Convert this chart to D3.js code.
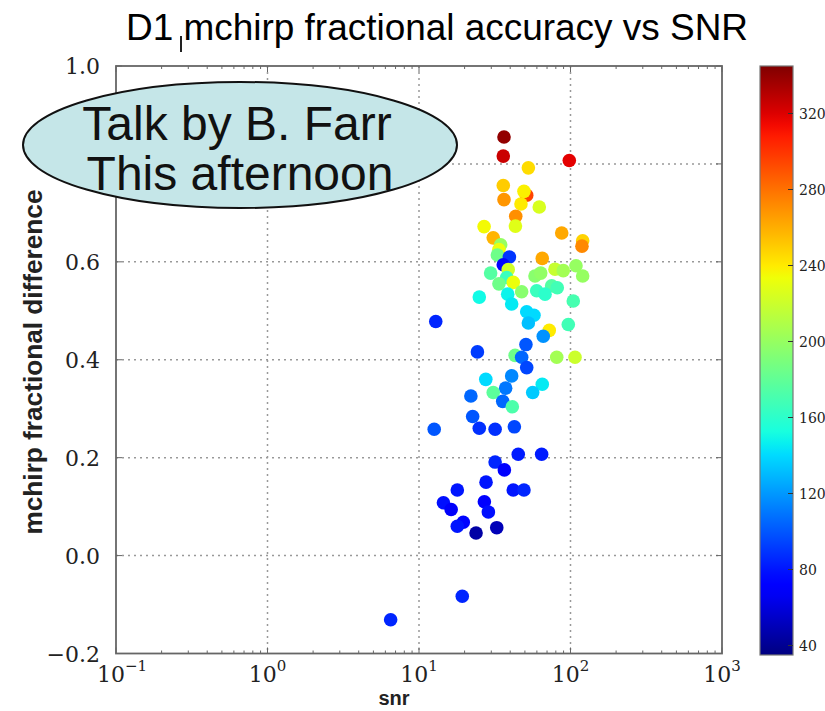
<!DOCTYPE html>
<html>
<head>
<meta charset="utf-8">
<script src="https://d3js.org/d3.v7.min.js"></script>
<style>
    body { margin: 0; background: #fff; }
    svg { display: block; }
    .tick-label { font-family: "DejaVu Serif", "Liberation Serif", serif; fill: #222; }
    .grid line { stroke: #999; stroke-width: 1.5; stroke-dasharray: 2, 4; }
    .axis path, .axis line { stroke: #666; }
</style>
</head>
<body>
<svg width="825" height="711"></svg>
<script>
// signal to noise ratio of each injection
const snr = [36.4, 98.2, 52.7, 36.0, 51.4, 49.3, 36.4, 47.1, 62.2, 43.5,
    43.3, 26.9, 87.5, 120.3, 119.0, 30.9, 34.6, 33.7, 32.9, 39.5,
    36.0, 65.1, 38.8, 29.7, 37.9, 41.9, 33.7, 79.0, 89.6, 108.7,
    120.3, 58.3, 63.6, 75.1, 81.8, 47.6, 59.8, 67.9, 25.0, 38.5,
    40.9, 104.3, 51.4, 57.4, 52.7, 96.7, 12.9, 72.4, 66.1, 50.8,
    24.3, 43.1, 47.6, 81.1, 107.1, 51.4, 27.6, 40.9, 65.1, 37.3,
    56.3, 30.9, 22.0, 35.7, 41.3, 22.6, 25.0, 31.8, 42.6, 12.6,
    45.2, 64.5, 31.8, 36.6, 27.7, 17.9, 41.9, 49.3, 14.5, 16.3,
    27.0, 28.7, 19.6, 17.9, 23.8, 32.6, 19.3, 6.5, 36.0];
// mchirp fractional difference
const diff = [0.855, 0.807, 0.792, 0.756, 0.736, 0.744, 0.727, 0.718, 0.712, 0.693,
    0.673, 0.672, 0.659, 0.643, 0.632, 0.649, 0.635, 0.625, 0.614, 0.610,
    0.594, 0.607, 0.584, 0.577, 0.568, 0.558, 0.555, 0.585, 0.582, 0.592,
    0.571, 0.571, 0.577, 0.551, 0.547, 0.539, 0.541, 0.534, 0.528, 0.534,
    0.514, 0.520, 0.498, 0.491, 0.475, 0.472, 0.478, 0.460, 0.448, 0.431,
    0.416, 0.409, 0.405, 0.405, 0.405, 0.384, 0.360, 0.367, 0.350, 0.342,
    0.333, 0.333, 0.326, 0.315, 0.304, 0.284, 0.260, 0.258, 0.263, 0.258,
    0.207, 0.207, 0.191, 0.175, 0.150, 0.134, 0.134, 0.134, 0.108, 0.094,
    0.110, 0.089, 0.068, 0.060, 0.046, 0.057, -0.083, -0.131, 0.816];
// colour value of each point
const cval = [340, 318, 245, 250, 295, 238, 268, 240, 225, 270,
    228, 235, 262, 248, 272, 258, 200, 232, 185, 90,
    75, 262, 222, 175, 165, 232, 185, 218, 205, 200,
    200, 195, 198, 175, 168, 195, 165, 160, 150, 148,
    145, 170, 140, 140, 132, 168, 85, 240, 118, 100,
    92, 185, 105, 205, 220, 95, 140, 115, 145, 110,
    135, 178, 105, 105, 172, 100, 88, 88, 95, 100,
    82, 82, 85, 72, 80, 80, 80, 85, 78, 68,
    70, 78, 75, 80, 45, 50, 85, 85, 325];

const cDomain = [35, 345];
const cbTicks = [40, 80, 120, 160, 200, 240, 280, 320];
const yTicks = [-0.2, 0.0, 0.2, 0.4, 0.6, 0.8, 1.0];
const xTicks = [-1, 0, 1, 2, 3];

// matplotlib "jet" segments
const jetR = d3.scaleLinear().domain([0, 0.35, 0.66, 0.89, 1]).range([0, 0, 1, 1, 0.5]);
const jetG = d3.scaleLinear().domain([0, 0.125, 0.375, 0.64, 0.91, 1]).range([0, 0, 1, 1, 0, 0]);
const jetB = d3.scaleLinear().domain([0, 0.11, 0.34, 0.65, 1]).range([0.5, 1, 1, 0, 0]);
function jet(t) {
    t = Math.max(0, Math.min(1, t));
    return d3.rgb(jetR(t) * 255, jetG(t) * 255, jetB(t) * 255).toString();
}

const L = 116, R = 722, T = 66, B = 653.5;
const svg = d3.select('svg');

const x = d3.scaleLog().domain([0.1, 1000]).range([L, R]);
const y = d3.scaleLinear().domain([-0.2, 1.0]).range([B, T]);
const cnorm = d3.scaleLinear().domain(cDomain).range([0, 1]);

// title
svg.append('text')
    .attr('x', 437).attr('y', 40)
    .attr('text-anchor', 'middle')
    .style('font-family', 'Liberation Sans, Arial, sans-serif')
    .style('font-size', '36px')
    .attr('textLength', 622).attr('lengthAdjust', 'spacingAndGlyphs')
    .text('D1 mchirp fractional accuracy vs SNR');
svg.append('line')
    .attr('x1', 181).attr('x2', 181).attr('y1', 36).attr('y2', 52)
    .attr('stroke', '#222').attr('stroke-width', 2);

// grid
const grid = svg.append('g').attr('class', 'grid');
grid.selectAll('.gx').data([1, 10, 100]).enter().append('line')
    .attr('x1', d => x(d)).attr('x2', d => x(d))
    .attr('y1', T).attr('y2', B);
grid.selectAll('.gy').data([0, 0.2, 0.4, 0.6, 0.8]).enter().append('line')
    .attr('x1', L).attr('x2', R)
    .attr('y1', d => y(d)).attr('y2', d => y(d));

// minor ticks for the log axis
const minor = [];
for (let e = -1; e < 3; e++) {
    for (let m = 2; m < 10; m++) minor.push(m * Math.pow(10, e));
}
const major = xTicks.map(e => Math.pow(10, e));

const axes = svg.append('g').attr('class', 'axis');
[B, T].forEach(function (yy) {
    const dir = yy === B ? -1 : 1;
    axes.selectAll(null).data(minor).enter().append('line')
        .attr('x1', d => x(d)).attr('x2', d => x(d))
        .attr('y1', yy).attr('y2', yy + dir * 3)
        .attr('stroke-width', 1);
    axes.selectAll(null).data(major).enter().append('line')
        .attr('x1', d => x(d)).attr('x2', d => x(d))
        .attr('y1', yy).attr('y2', yy + dir * 6)
        .attr('stroke-width', 1);
});
[L, R].forEach(function (xx) {
    const dir = xx === L ? 1 : -1;
    axes.selectAll(null).data(yTicks).enter().append('line')
        .attr('x1', xx).attr('x2', xx + dir * 6)
        .attr('y1', d => y(d)).attr('y2', d => y(d))
        .attr('stroke-width', 1);
});

// points
svg.append('g').selectAll('circle')
    .data(snr.map((s, i) => ({ s: s, d: diff[i], c: cval[i] })))
    .enter().append('circle')
    .attr('cx', d => x(d.s))
    .attr('cy', d => y(d.d))
    .attr('r', 6.8)
    .attr('fill', d => jet(cnorm(d.c)));

// frame
svg.append('rect')
    .attr('x', L).attr('y', T).attr('width', R - L).attr('height', B - T)
    .attr('fill', 'none').attr('stroke', '#666').attr('stroke-width', 1.8);

// y tick labels (0.8 sits under the callout bubble)
svg.append('g').selectAll('text').data(yTicks.filter(d => d !== 0.8)).enter().append('text')
    .attr('class', 'tick-label')
    .attr('x', L - 16).attr('y', d => y(d) + 8)
    .attr('text-anchor', 'end')
    .style('font-size', '22px')
    .text(d => d3.format('.1f')(d));

// x tick labels 10^n
const xl = svg.append('g').selectAll('text').data(xTicks).enter().append('text')
    .attr('class', 'tick-label')
    .attr('x', d => x(Math.pow(10, d)) + (d < 0 ? 6 : 0))
    .attr('y', 682)
    .attr('text-anchor', 'middle')
    .style('font-size', '22px');
xl.append('tspan').text('10');
xl.append('tspan').attr('dy', -11).style('font-size', '15px')
    .text(d => d < 0 ? '\u2212' + Math.abs(d) : d);

// axis labels
svg.append('text')
    .attr('x', 394).attr('y', 705)
    .attr('text-anchor', 'middle')
    .style('font-family', 'Liberation Sans, Arial, sans-serif')
    .style('font-size', '20px').style('font-weight', 'bold')
    .style('fill', '#222')
    .text('snr');
svg.append('text')
    .attr('transform', 'translate(42,362) rotate(-90)')
    .attr('text-anchor', 'middle')
    .style('font-family', 'Liberation Sans, Arial, sans-serif')
    .style('font-size', '25px').style('font-weight', 'bold')
    .style('fill', '#222')
    .attr('textLength', 345).attr('lengthAdjust', 'spacingAndGlyphs')
    .text('mchirp fractional difference');

// colorbar
const cbL = 760, cbW = 33, cbT = 66, cbB = 655;
const cy = d3.scaleLinear().domain(cDomain).range([cbB, cbT]);
const grad = svg.append('defs').append('linearGradient')
    .attr('id', 'jetgrad').attr('x1', 0).attr('x2', 0).attr('y1', 1).attr('y2', 0);
grad.selectAll('stop').data(d3.range(0, 1.0001, 0.02)).enter().append('stop')
    .attr('offset', d => d)
    .attr('stop-color', d => jet(d));
svg.append('rect')
    .attr('x', cbL).attr('y', cbT).attr('width', cbW).attr('height', cbB - cbT)
    .attr('fill', 'url(#jetgrad)')
    .attr('stroke', '#777').attr('stroke-width', 1.2);
svg.append('g').selectAll('line').data(cbTicks).enter().append('line')
    .attr('x1', cbL + cbW - 5).attr('x2', cbL + cbW)
    .attr('y1', d => cy(d)).attr('y2', d => cy(d))
    .attr('stroke', '#333');
svg.append('g').selectAll('text').data(cbTicks).enter().append('text')
    .attr('class', 'tick-label')
    .attr('x', cbL + cbW + 6).attr('y', d => cy(d) + 5)
    .style('font-size', '14px')
    .text(d => d);

// callout bubble
svg.append('ellipse')
    .attr('cx', 240).attr('cy', 145).attr('rx', 217).attr('ry', 63)
    .attr('fill', '#c5e6e8').attr('stroke', '#111').attr('stroke-width', 2);
svg.append('text')
    .attr('x', 237).attr('y', 140)
    .attr('text-anchor', 'middle')
    .style('font-family', 'Liberation Sans, Arial, sans-serif')
    .style('font-size', '48px').style('fill', '#111')
    .text('Talk by B. Farr');
svg.append('text')
    .attr('x', 240).attr('y', 190)
    .attr('text-anchor', 'middle')
    .style('font-family', 'Liberation Sans, Arial, sans-serif')
    .style('font-size', '48px').style('fill', '#111')
    .text('This afternoon');
</script>
</body>
</html>
